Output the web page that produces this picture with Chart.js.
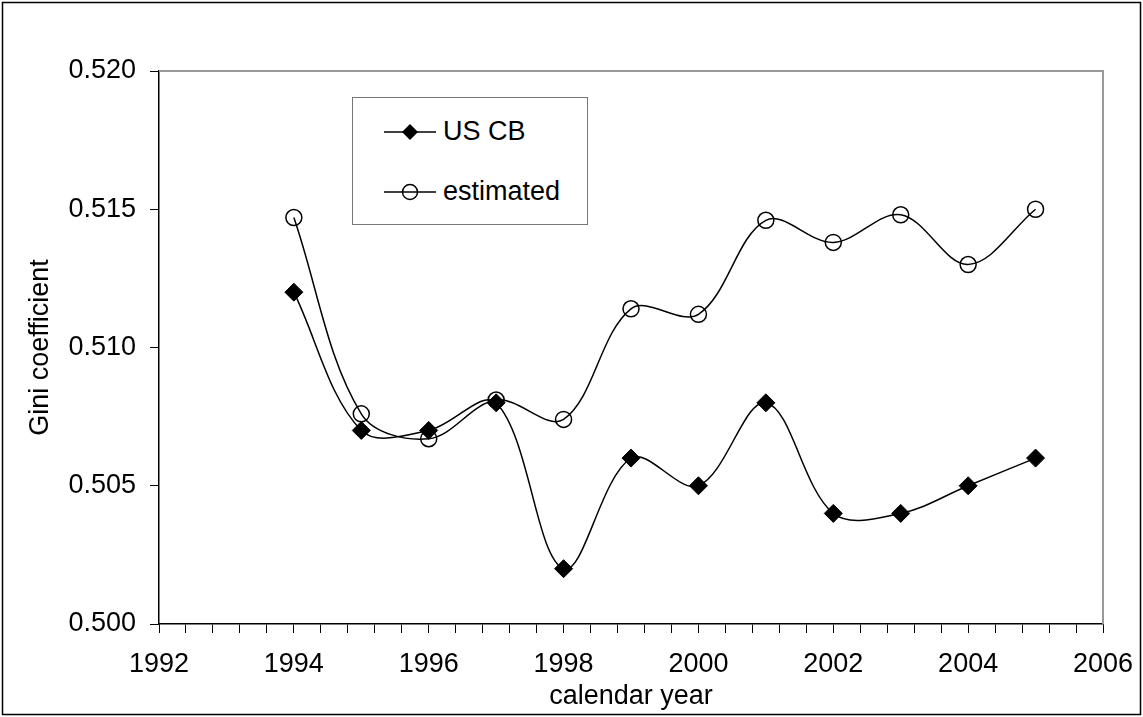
<!DOCTYPE html>
<html>
<head>
<meta charset="utf-8">
<script src="https://cdn.jsdelivr.net/npm/chart.js@4"></script>
<style>
  body { margin: 0; background: #fff; }
  #wrap { position: relative; width: 1143px; height: 717px; }
  #legend {
    position: absolute; left: 352px; top: 97px; width: 234px; height: 126px;
    border: 1px solid #777; background: #fff;
    font-family: "Liberation Sans", Arial, sans-serif; font-size: 27px; color: #000;
  }
  .item { position: absolute; left: 31px; display: flex; align-items: center; }
  .item svg { margin-right: 7px; }
</style>
</head>
<body>
<div id="wrap">
  <canvas id="myChart" width="1143" height="717"></canvas>
  <div id="legend">
    <div class="item" style="top:18px">
      <svg width="52" height="20"><line x1="0" y1="10" x2="52" y2="10" stroke="#000" stroke-width="1.5"/><polygon points="26,2 34,10 26,18 18,10" fill="#000"/></svg>
      <span>US CB</span>
    </div>
    <div class="item" style="top:78px">
      <svg width="52" height="20"><line x1="0" y1="10" x2="52" y2="10" stroke="#000" stroke-width="1.5"/><circle cx="26" cy="10" r="7.5" fill="none" stroke="#000" stroke-width="1.5"/></svg>
      <span>estimated</span>
    </div>
  </div>
</div>
<script>
const years = [1994, 1995, 1996, 1997, 1998, 1999, 2000, 2001, 2002, 2003, 2004, 2005];
const usCB = [0.512, 0.507, 0.507, 0.508, 0.502, 0.506, 0.505, 0.508, 0.504, 0.504, 0.505, 0.506];
const estimated = [0.5147, 0.5076, 0.5067, 0.5081, 0.5074, 0.5114, 0.5112, 0.5146, 0.5138, 0.5148, 0.5130, 0.5150];

const font = { family: "'Liberation Sans', Arial, sans-serif", size: 27 };

// grey plot-area border on top/right and the outer chart frame
const frames = {
  id: 'frames',
  beforeDatasetsDraw(chart) {
    const { ctx, chartArea: a } = chart;
    ctx.save();
    ctx.strokeStyle = '#999';
    ctx.lineWidth = 2;
    ctx.beginPath();
    ctx.moveTo(a.left, a.top);
    ctx.lineTo(a.right, a.top);
    ctx.lineTo(a.right, a.bottom);
    ctx.stroke();
    ctx.restore();
  },
  afterDraw(chart) {
    const ctx = chart.ctx;
    ctx.save();
    ctx.strokeStyle = '#000';
    ctx.lineWidth = 1.5;
    ctx.strokeRect(2.5, 2.5, chart.width - 5, chart.height - 5);
    ctx.restore();
  }
};

new Chart("myChart", {
  type: "line",
  data: {
    datasets: [{
      label: "US CB",
      data: years.map((y, i) => ({ x: y, y: usCB[i] })),
      borderColor: "#000",
      borderWidth: 1.5,
      pointStyle: "rectRot",
      pointRadius: 9,
      pointBackgroundColor: "#000",
      pointBorderColor: "#000",
      pointBorderWidth: 1,
      tension: 0.35
    }, {
      label: "estimated",
      data: years.map((y, i) => ({ x: y, y: estimated[i] })),
      borderColor: "#000",
      borderWidth: 1.5,
      pointStyle: "circle",
      pointRadius: 8,
      pointBackgroundColor: "rgba(0,0,0,0)",
      pointBorderColor: "#000",
      pointBorderWidth: 1.5,
      tension: 0.35
    }]
  },
  options: {
    responsive: false,
    animation: false,
    layout: { padding: { left: 0, right: 40, top: 71, bottom: 0 } },
    plugins: { legend: { display: false }, tooltip: { enabled: false } },
    scales: {
      x: {
        type: "linear",
        min: 1992,
        max: 2006,
        afterFit(scale) {
          scale.height = 93;
          scale.paddingLeft = 0;
          scale.paddingRight = 0;
        },
        ticks: {
          stepSize: 0.4,
          autoSkip: false,
          maxRotation: 0,
          padding: 15,
          color: "#000",
          font: font,
          callback: function(v) {
            const r = Math.round(v);
            return (Math.abs(v - r) < 1e-6 && r % 2 === 0) ? String(r) : '';
          }
        },
        grid: { drawOnChartArea: false, drawTicks: true, tickLength: 9, color: "#000" },
        border: { color: "#000", width: 1.5 },
        title: { display: true, text: "calendar year", color: "#000", font: font, padding: { top: 3, bottom: 4 } }
      },
      y: {
        min: 0.5,
        max: 0.52,
        afterFit(scale) { scale.width = 159; },
        ticks: {
          stepSize: 0.005,
          padding: 14,
          color: "#000",
          font: font,
          callback: v => v.toFixed(3)
        },
        grid: { drawOnChartArea: false, drawTicks: true, tickLength: 9, color: "#000" },
        border: { color: "#000", width: 1.5 },
        title: { display: true, text: "Gini coefficient", color: "#000", font: font, padding: { top: 24, bottom: 4 } }
      }
    }
  },
  plugins: [frames]
});
</script>
</body>
</html>
